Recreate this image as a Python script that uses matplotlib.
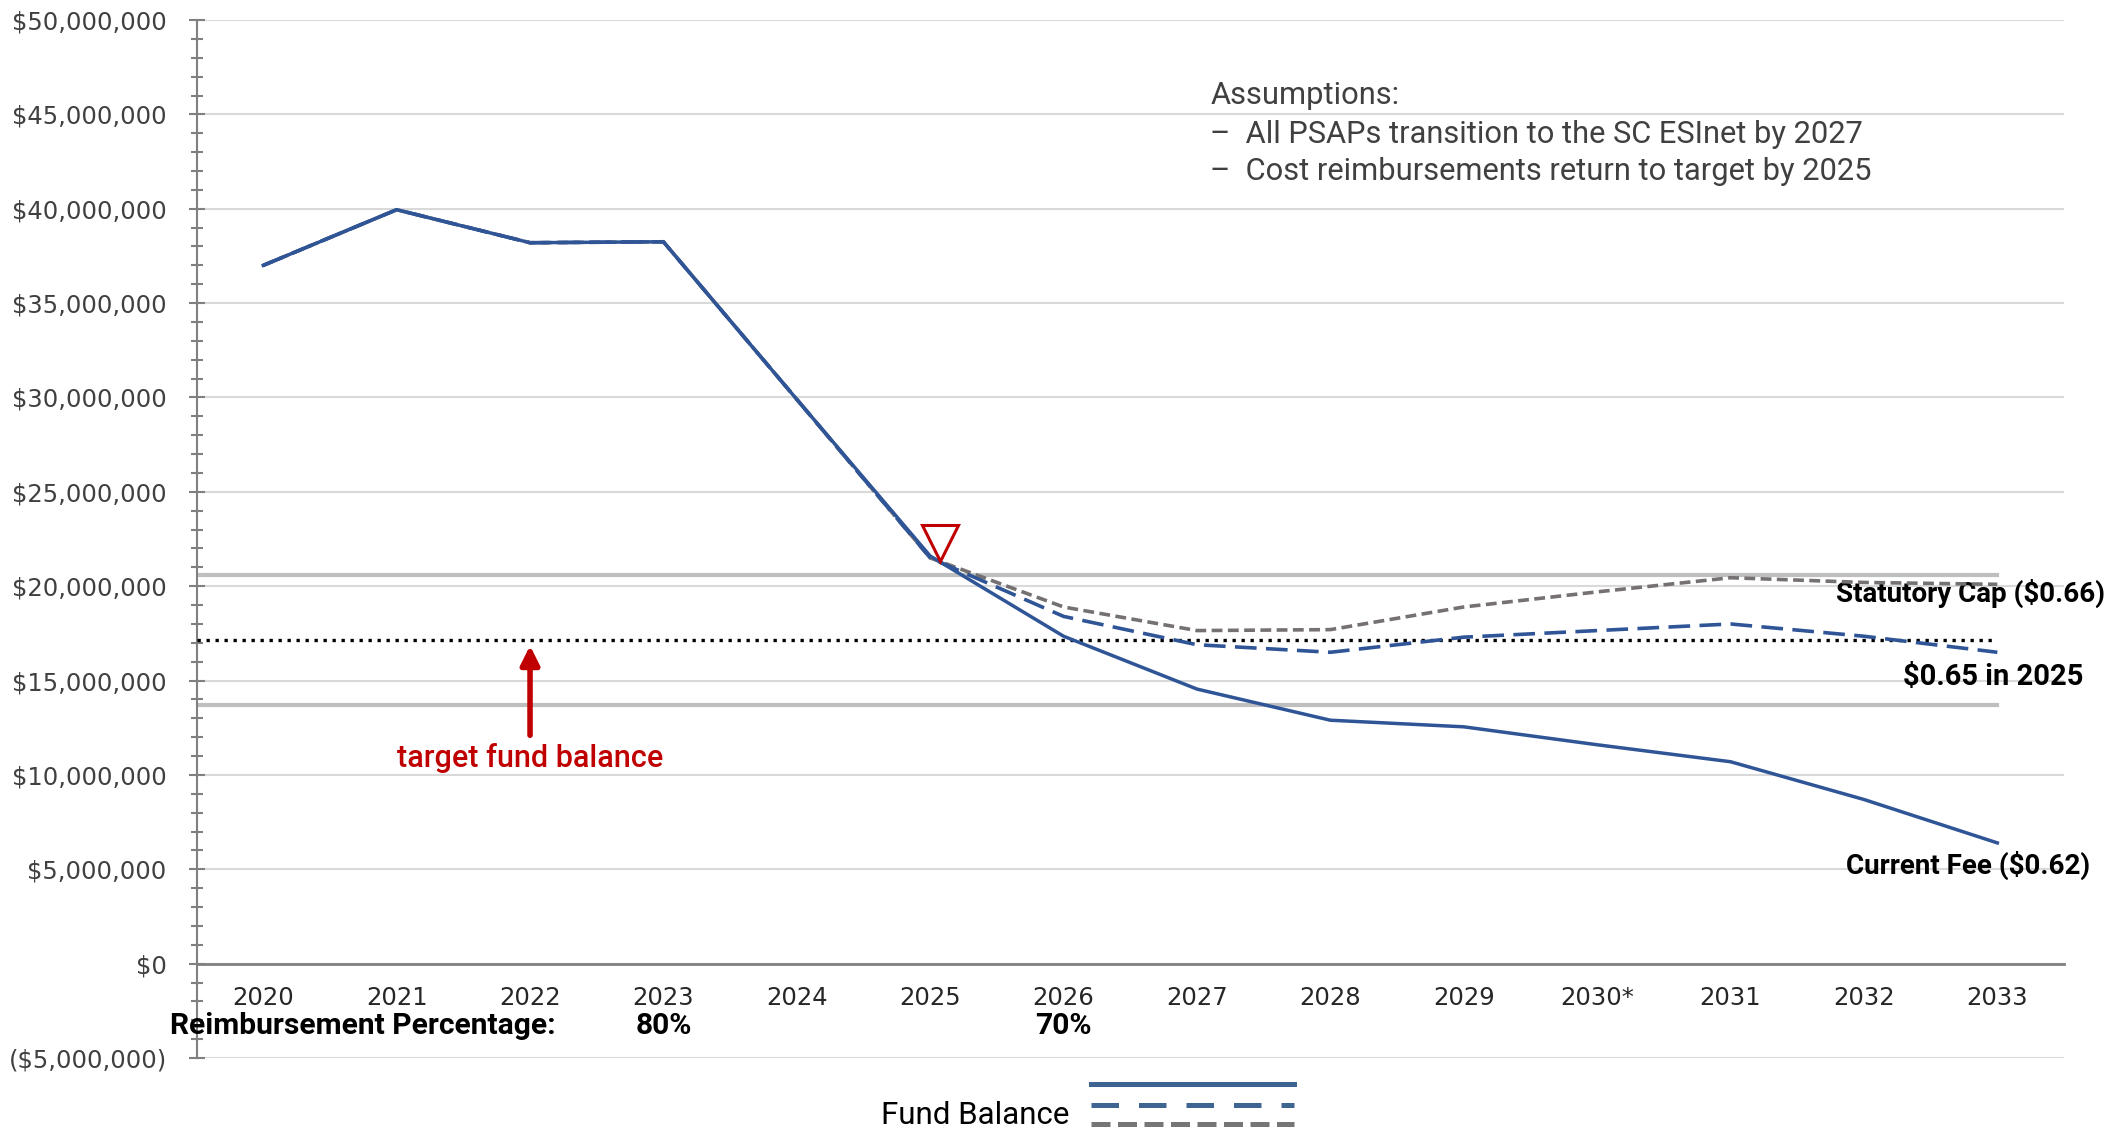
import matplotlib.pyplot as plt
import matplotlib.ticker as mticker
from matplotlib.lines import Line2D

plt.rcParams['font.family'] = ['DejaVu Sans']
LBL_FONT = ['Roboto', 'DejaVu Sans']

# fund balance projections (dollars)
years = ['2020', '2021', '2022', '2023', '2024', '2025', '2026', '2027',
         '2028', '2029', '2030*', '2031', '2032', '2033']
current_fee = [37.0e6, 39.95e6, 38.2e6, 38.25e6, 29.9e6, 21.6e6, 17.35e6, 14.55e6,
               12.9e6, 12.55e6, 11.6e6, 10.7e6, 8.7e6, 6.4e6]
fee_065 = [37.0e6, 39.95e6, 38.2e6, 38.25e6, 29.9e6, 21.5e6, 18.4e6, 16.9e6,
           16.5e6, 17.3e6, 17.65e6, 18.0e6, 17.35e6, 16.5e6]
statutory_cap = [37.0e6, 39.95e6, 38.2e6, 38.25e6, 29.9e6, 21.5e6, 18.9e6, 17.65e6,
                 17.7e6, 18.9e6, 19.7e6, 20.45e6, 20.2e6, 20.1e6]

band_upper = 20.6e6
band_lower = 13.7e6
target_balance = 17.15e6
reimb_labels = ['80%', '70%']
reimb_years = ['2023', '2026']

blue = '#2F5597'
gray = '#767171'
red = '#C00000'

fig = plt.figure(figsize=(21.25, 11.31), dpi=100)
ax = fig.add_axes([0.0925, 0.0645, 0.8788, 0.9178])

x = list(range(len(years)))
last = len(years) - 1

# band lines and target
ax.plot([-0.5, last], [band_upper, band_upper], color='#BFBFBF', lw=3, zorder=2)
ax.plot([-0.5, last], [band_lower, band_lower], color='#BFBFBF', lw=3, zorder=2)
ax.plot([-0.5, last], [target_balance, target_balance], color='black', lw=2.4,
        linestyle=(0, (1, 1.7)), zorder=3)

ax.plot(x, statutory_cap, color=gray, lw=2.6, dashes=(3, 1.5), zorder=4)
ax.plot(x, fee_065, color=blue, lw=2.6, dashes=(6, 2.6), zorder=5)
ax.plot(x, current_fee, color=blue, lw=2.5, zorder=6)

# triangle marker above 2025
ax.plot([5.07], [22.3e6], marker='v', ms=26, mfc='none', mec=red, mew=2.2, zorder=7)

# target arrow
ax.annotate('', xy=(2, 16.85e6), xytext=(2, 12.1e6),
            arrowprops=dict(arrowstyle='-|>', color=red, lw=4, mutation_scale=28,
                            shrinkA=0, shrinkB=0), zorder=8)
ax.text(2, 10.9e6, 'target fund balance', color=red, fontsize=22,
        family=LBL_FONT, weight='medium', ha='center', va='center')

# series labels
lab = dict(weight='bold', color='black', ha='center', va='center', family=LBL_FONT)
ax.text(12.80, 19.6e6, 'Statutory Cap ($0.66)', fontsize=20, **lab)
ax.text(12.97, 15.2e6, '$0.65 in 2025', fontsize=21, **lab)
ax.text(12.78, 5.2e6, 'Current Fee ($0.62)', fontsize=20, **lab)

# assumptions
asm = dict(fontsize=22.2, color='#404040', ha='left', va='center', family=LBL_FONT)
ax.text(7.10, 46.0e6, 'Assumptions:', **asm)
ax.text(7.10, 43.95e6, '–  All PSAPs transition to the SC ESInet by 2027', **asm)
ax.text(7.10, 41.95e6, '–  Cost reimbursements return to target by 2025', **asm)

# reimbursement percentages
ax.text(2.19, -3.3e6, 'Reimbursement Percentage:', fontsize=21.6, weight='bold',
        family=LBL_FONT, ha='right', va='center')
for yr, lbl in zip(reimb_years, reimb_labels):
    ax.text(years.index(yr), -3.3e6, lbl, fontsize=21.6, weight='bold',
            family=LBL_FONT, ha='center', va='center')

# axes
ax.set_xlim(-0.5, len(years) - 0.5)
ax.set_ylim(-5e6, 50e6)
ax.set_xticks(x)
ax.set_xticklabels(years)
ax.tick_params(axis='x', length=0, pad=16, labelsize=17.5, labelcolor='#262626')

ax.yaxis.set_major_locator(mticker.MultipleLocator(5e6))
ax.yaxis.set_minor_locator(mticker.MultipleLocator(1e6))
ax.yaxis.set_major_formatter(mticker.FuncFormatter(
    lambda v, p: f'${v:,.0f}' if v >= 0 else f'(${-v:,.0f})'))
ax.tick_params(axis='y', which='major', direction='inout', length=11, width=1.5,
               color='#808080', labelsize=17.5, labelcolor='#404040', pad=16)
ax.tick_params(axis='y', which='minor', direction='inout', length=9, width=1.5,
               color='#808080')
ax.grid(axis='y', which='major', color='#D9D9D9', lw=1.5, zorder=0)
ax.set_axisbelow(True)

ax.spines['top'].set_visible(False)
ax.spines['right'].set_visible(False)
ax.spines['left'].set_color('#808080')
ax.spines['left'].set_linewidth(1.5)
ax.spines['bottom'].set_position(('data', 0))
ax.spines['bottom'].set_color('#808080')
ax.spines['bottom'].set_linewidth(2)

# legend
W, H = 2125, 1131
def fy(y):
    return 1 - y / H
x0, x1 = 1091 / W, 1294 / W
fig.add_artist(Line2D([x0, x1], [fy(1084), fy(1084)], color='#3E6491', lw=3.6))
fig.add_artist(Line2D([x0, x1], [fy(1105), fy(1105)], color='#3E6491', lw=3.6,
                      dashes=(5.5, 4)))
fig.add_artist(Line2D([x0, x1], [fy(1124), fy(1124)], color='#767676', lw=3.6,
                      dashes=(3.8, 1.5)))
fig.text(975 / W, fy(1116), 'Fund Balance', fontsize=22.5, ha='center', va='center',
         family=LBL_FONT)

fig.savefig('out.png', dpi=100)
